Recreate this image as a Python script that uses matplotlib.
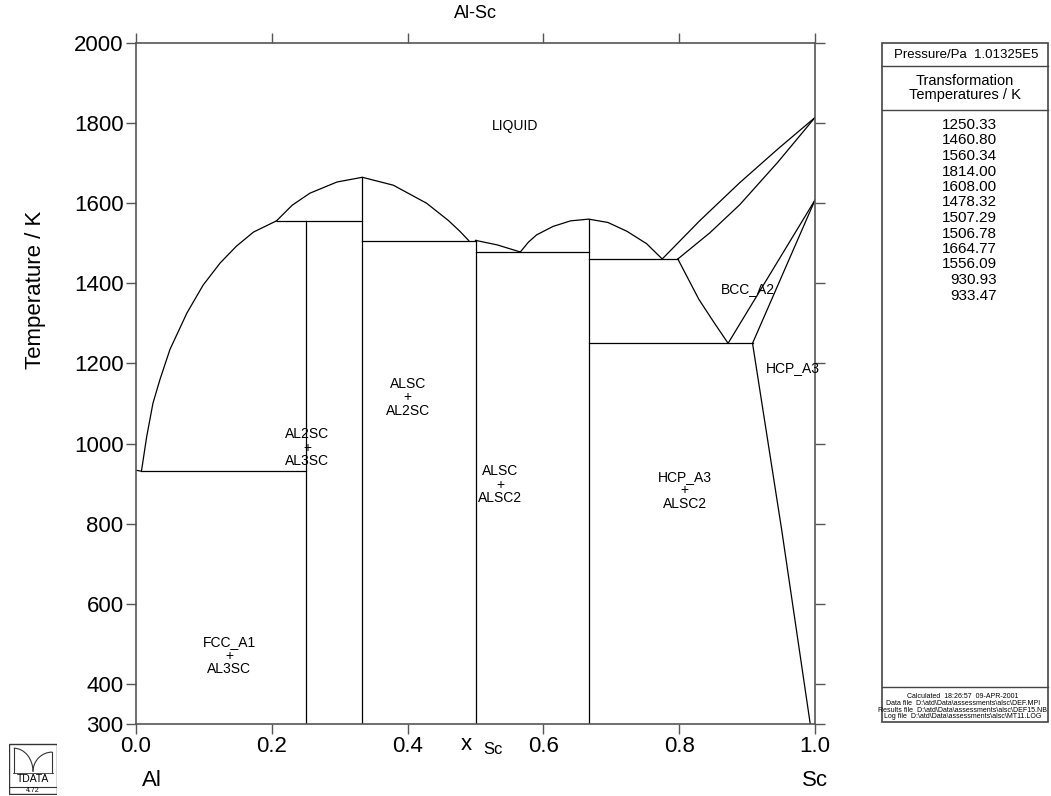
import matplotlib
matplotlib.use('Agg')
import matplotlib.pyplot as plt
from matplotlib.patches import Rectangle, Arc

plt.rcParams['font.family'] = ['Liberation Sans', 'DejaVu Sans']

# ---------------- data ----------------
title = "Al-Sc"
# stoichiometric compounds: composition and top temperature
compound_x = [0.25, 1/3, 0.5, 2/3]
compound_top = [1556.09, 1664.77, 1507.29, 1560.34]

# invariant (horizontal) lines
inv_T = [930.93, 1556.09, 1506.78, 1478.32, 1460.80, 1250.33]
inv_x0 = [0.008, 0.207, 1/3, 0.5, 2/3, 2/3]
inv_x1 = [0.25, 1/3, 0.5, 2/3, 0.798, 0.908]

# liquidus / phase boundary segments
liq_a_x = [0.0, 0.008, 0.0157, 0.025, 0.0353, 0.05, 0.075, 0.099, 0.124, 0.148, 0.173, 0.207]
liq_a_T = [933.47, 930.93, 1017, 1101, 1160, 1235, 1326, 1396, 1451, 1493, 1528, 1556.09]
liq_b_x = [0.207, 0.23, 0.256, 0.296, 1/3, 0.379, 0.428, 0.46, 0.477, 0.49]
liq_b_T = [1556.09, 1595, 1625, 1653, 1664.77, 1645, 1600, 1557, 1530, 1506.78]
liq_c_x = [0.5, 0.532, 0.566]
liq_c_T = [1507.29, 1496, 1478.32]
liq_d_x = [0.566, 0.578, 0.59, 0.614, 0.64, 2/3, 0.695, 0.723, 0.752, 0.775]
liq_d_T = [1478.32, 1503, 1521, 1542, 1556, 1560.34, 1552, 1530, 1499, 1460.80]
liq_e_x = [0.775, 0.83, 0.889, 0.945, 1.0]
liq_e_T = [1460.80, 1556, 1651, 1735, 1814.0]
sol_bcc_x = [0.798, 0.845, 0.889, 0.945, 1.0]
sol_bcc_T = [1460.80, 1526, 1596, 1702, 1814.0]
bcc_left_x = [0.798, 0.813, 0.829, 0.851, 0.872]
bcc_left_T = [1460.80, 1412, 1360, 1303, 1250.33]
bcc_right_x = [0.872, 1.0]
bcc_right_T = [1250.33, 1608.0]
hcp_upper_x = [0.908, 1.0]
hcp_upper_T = [1250.33, 1608.0]
hcp_solvus_x = [0.908, 0.951, 0.993]
hcp_solvus_T = [1250.33, 784, 300]

# region labels
region_labels = ["LIQUID", "BCC_A2", "HCP_A3", "ALSC\n+\nAL2SC", "AL2SC\n+\nAL3SC",
                 "ALSC\n+\nALSC2", "HCP_A3\n+\nALSC2", "FCC_A1\n+\nAL3SC"]
region_x = [0.558, 0.901, 0.967, 0.400, 0.252, 0.536, 0.808, 0.137]
region_T = [1793, 1386, 1189, 1116, 990, 897, 884, 470]

x_ticks = [0.0, 0.2, 0.4, 0.6, 0.8, 1.0]
x_tick_labels = ["0.0", "0.2", "0.4", "0.6", "0.8", "1.0"]
y_ticks = [300, 400, 600, 800, 1000, 1200, 1400, 1600, 1800, 2000]
y_tick_labels = ["300", "400", "600", "800", "1000", "1200", "1400", "1600", "1800", "2000"]

transformation_temps = ["1250.33", "1460.80", "1560.34", "1814.00", "1608.00", "1478.32",
                        "1507.29", "1506.78", "1664.77", "1556.09", "930.93", "933.47"]
footer_lines = ["Calculated  18:26:57  09-APR-2001",
                "Data file  D:\\atd\\Data\\assessments\\alsc\\DEF.MPI",
                "Results file  D:\\atd\\Data\\assessments\\alsc\\DEF15.NB",
                "Log file  D:\\atd\\Data\\assessments\\alsc\\MT11.LOG"]

# ---------------- figure ----------------
W, H = 1051, 796
fig = plt.figure(figsize=(W / 100, H / 100), dpi=100)

def fx(px):
    return px / W

def fy(py):
    return 1 - py / H

ax = fig.add_axes([fx(136), fy(724), fx(815) - fx(136), fy(43) - fy(724)])
ax.set_xlim(0, 1)
ax.set_ylim(300, 2000)

lc = 'black'
lw = 0.9
for xc, top in zip(compound_x, compound_top):
    ax.plot([xc, xc], [300, top], color=lc, lw=lw)
for T, a, b in zip(inv_T, inv_x0, inv_x1):
    ax.plot([a, b], [T, T], color=lc, lw=lw)
for xs, Ts in [(liq_a_x, liq_a_T), (liq_b_x, liq_b_T), (liq_c_x, liq_c_T),
               (liq_d_x, liq_d_T), (liq_e_x, liq_e_T), (sol_bcc_x, sol_bcc_T),
               (bcc_left_x, bcc_left_T), (bcc_right_x, bcc_right_T),
               (hcp_upper_x, hcp_upper_T), (hcp_solvus_x, hcp_solvus_T)]:
    ax.plot(xs, Ts, color=lc, lw=lw)

for lab, x, T in zip(region_labels, region_x, region_T):
    ax.text(x, T, lab, ha='center', va='center', fontsize=10, linespacing=0.95)

ax.set_xticks(x_ticks)
ax.set_xticklabels(x_tick_labels, fontsize=16)
ax.set_yticks(y_ticks)
ax.set_yticklabels(y_tick_labels, fontsize=16)
ax.tick_params(direction='out', length=7, width=1, color='#555555',
               top=True, right=True, labeltop=False, labelright=False, pad=2)
for s in ax.spines.values():
    s.set_color('#555555')
    s.set_linewidth(1.2)

fig.text(fx(475), fy(14), title, ha='center', va='center', fontsize=13)
fig.text(fx(36), fy(290), "Temperature / K", rotation=90, ha='center', va='center', fontsize=16)
fig.text(fx(466), fy(744), "x", ha='center', va='center', fontsize=16)
fig.text(fx(493), fy(750), "Sc", ha='center', va='center', fontsize=12)
fig.text(fx(152), fy(780), "Al", ha='center', va='center', fontsize=16)
fig.text(fx(815), fy(781), "Sc", ha='center', va='center', fontsize=16)

# ---------------- right info panel ----------------
pc = '#444444'
fig.add_artist(Rectangle((fx(882), fy(722)), fx(1048) - fx(882), fy(43) - fy(722),
                         transform=fig.transFigure, fill=False, ec=pc, lw=1.2))
for yy in [66, 110, 687]:
    fig.add_artist(plt.Line2D([fx(882), fx(1048)], [fy(yy), fy(yy)],
                              transform=fig.transFigure, color=pc, lw=1.0))
fig.text(fx(966), fy(55), "Pressure/Pa  1.01325E5", ha='center', va='center', fontsize=9.5)
fig.text(fx(965), fy(88), "Transformation\nTemperatures / K", ha='center', va='center',
         fontsize=10.5, linespacing=1.05)
for i, t in enumerate(transformation_temps):
    fig.text(fx(997), fy(125 + i * 15.5), t, ha='right', va='center', fontsize=11)
for i, t in enumerate(footer_lines):
    fig.text(fx(963), fy(697 + i * 6.6), t, ha='center', va='center', fontsize=5)

# ---------------- logo ----------------
lax = fig.add_axes([fx(9), fy(795), fx(57) - fx(9), fy(743) - fy(795)])
lax.set_xlim(0, 1)
lax.set_ylim(0, 1)
lax.axis('off')
lax.add_patch(Rectangle((0.01, 0.01), 0.98, 0.98, fill=False, ec='#333333', lw=1))
lax.plot([0.01, 0.99], [0.16, 0.16], color='#333333', lw=0.8)
lax.plot([0.1, 0.1], [0.9, 0.42], color='#333333', lw=0.8)
lax.plot([0.9, 0.9], [0.82, 0.42], color='#333333', lw=0.8)
lax.add_patch(Arc((0.1, 0.45), 0.8, 0.9, theta1=0, theta2=90, ec='#333333', lw=0.8))
lax.add_patch(Arc((0.9, 0.45), 0.8, 0.75, theta1=90, theta2=180, ec='#333333', lw=0.8))
lax.plot([0.08, 0.92], [0.42, 0.42], color='#333333', lw=0.6)
lax.text(0.5, 0.3, "TDATA", ha='center', va='center', fontsize=7.5)
lax.text(0.5, 0.08, "4.72", ha='center', va='center', fontsize=5)

fig.savefig("out.png", dpi=100)
